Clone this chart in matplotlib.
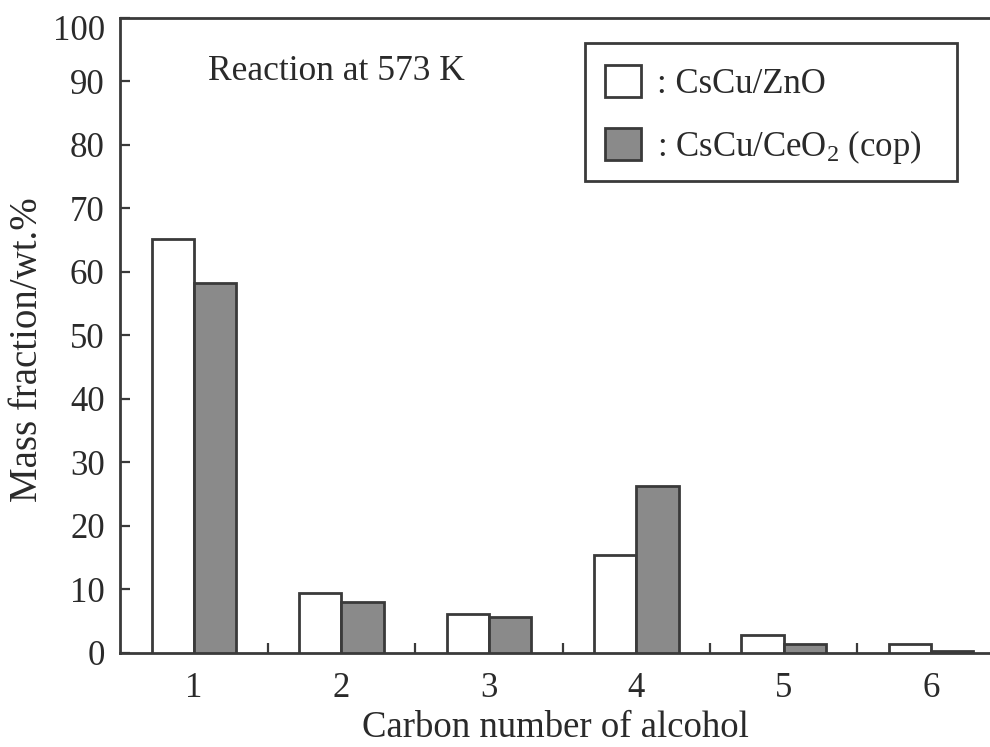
import matplotlib
matplotlib.use("Agg")
import matplotlib.pyplot as plt
from matplotlib.patches import Patch, Rectangle
from matplotlib.ticker import FixedLocator
from matplotlib.transforms import ScaledTranslation
import numpy as np

carbon_numbers = [1, 2, 3, 4, 5, 6]
cscu_zno = [65.2, 9.3, 6.0, 15.3, 2.8, 1.4]
cscu_ceo2 = [58.3, 7.9, 5.6, 26.3, 1.4, 0.3]
series_labels = [": CsCu/ZnO", ": CsCu/CeO$_2$ (cop)"]
y_ticks = list(range(0, 101, 10))
annotation = "Reaction at 573 K"
x_label = "Carbon number of alcohol"
y_label = "Mass fraction/wt.%"

plt.rcParams['font.family'] = ['Liberation Serif', 'DejaVu Serif']
plt.rcParams['mathtext.fontset'] = 'custom'
plt.rcParams['mathtext.rm'] = 'Liberation Serif'
plt.rcParams['mathtext.it'] = 'Liberation Serif:italic'
plt.rcParams['mathtext.default'] = 'rm'

edge = '#3a3a3a'
grey = '#8a8a8a'
text_c = '#2a2a2a'

fig = plt.figure(figsize=(9.9, 7.47), dpi=100)
ax = fig.add_axes([120/990, 1-652.5/747, 1-120/990, (652.5-18)/747])

x = np.array(carbon_numbers, dtype=float)
w = 0.287
ax.bar(x - w/2, cscu_zno, width=w, color='white', edgecolor=edge, linewidth=2.0, zorder=3)
ax.bar(x + w/2, cscu_ceo2, width=w, color=grey, edgecolor=edge, linewidth=2.0, zorder=3)

ax.set_xlim(0.498, 6.4)
ax.set_ylim(0, 100)
ax.set_yticks(y_ticks)
ax.set_xticks(carbon_numbers)
ax.xaxis.set_minor_locator(FixedLocator([1.5, 2.5, 3.5, 4.5, 5.5]))
ax.tick_params(axis='x', which='major', length=0, pad=14, labelsize=25, labelcolor=text_c)
ax.tick_params(axis='x', which='minor', direction='in', length=7, width=1.6, color=edge)
ax.tick_params(axis='y', which='major', direction='in', length=7, width=1.6, color=edge,
               pad=11, labelsize=25, labelcolor=text_c)

# top label "100" sits a little below the top spine in the reference
top_lbl = ax.get_yticklabels()[-1]
top_lbl.set_transform(top_lbl.get_transform() + ScaledTranslation(0, -7/72, fig.dpi_scale_trans))

for s in ['left', 'bottom', 'top']:
    ax.spines[s].set_linewidth(2.0)
    ax.spines[s].set_color(edge)
ax.spines['right'].set_visible(False)

ax.set_xlabel(x_label, fontsize=26.5, color=text_c, labelpad=4)
ax.set_ylabel(y_label, fontsize=28, color=text_c, va='center')
ax.yaxis.set_label_coords((28-120)/870, (652.5-349.5)/634.5)

fig.text(208/990, 1-71/747, annotation, fontsize=25.5, color=text_c, ha='left', va='center')

handles = [Patch(facecolor='white', edgecolor=edge, linewidth=2.0),
           Patch(facecolor=grey, edgecolor=edge, linewidth=2.0)]
leg = ax.legend(handles, series_labels, loc='upper left',
                bbox_to_anchor=(605/990, 1-65/747), bbox_transform=fig.transFigure,
                fontsize=25, frameon=False,
                handlelength=1.05, handleheight=1.05,
                handletextpad=0.45, labelspacing=0.78, borderpad=0, borderaxespad=0)
for t in leg.get_texts():
    t.set_color(text_c)
leg.set_zorder(6)

frame = Rectangle((585/990, 1-181/747), (957-585)/990, (181-43)/747,
                  transform=fig.transFigure, fill=True, facecolor='white',
                  edgecolor=edge, linewidth=2.0, zorder=5, clip_on=False)
ax.add_patch(frame)

fig.savefig('out.png', dpi=100)
